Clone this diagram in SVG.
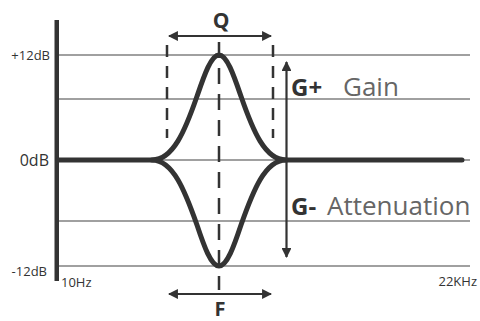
<svg xmlns="http://www.w3.org/2000/svg" width="480" height="321" viewBox="0 0 480 321">
<defs>
<style>
.grid{stroke:#a0a0a0;stroke-width:2.2;fill:none}
.curve{stroke:#333;stroke-width:5;fill:none;stroke-linecap:round;stroke-linejoin:round}
.dash{stroke:#333;stroke-width:2.5;fill:none}
.arr{stroke:#333;stroke-width:2.2;fill:none}
.lbl{font-family:"Open Sans","DejaVu Sans",sans-serif;fill:#333}
</style>
<marker id="ah" viewBox="0 0 10 10" refX="9" refY="5" markerWidth="5" markerHeight="4.5" markerUnits="strokeWidth" orient="auto-start-reverse">
<path d="M0,0 L10,5 L0,10 Z" fill="#333"/>
</marker>
</defs>
<rect width="480" height="321" fill="#fff"/>
<g id="grid">
<line class="grid" x1="58" y1="55" x2="470" y2="55"/>
<line class="grid" x1="58" y1="99" x2="470" y2="99"/>
<line class="grid" x1="58" y1="160" x2="470" y2="160"/>
<line class="grid" x1="58" y1="221" x2="470" y2="221"/>
<line class="grid" x1="58" y1="266" x2="470" y2="266"/>
</g>
<g id="axis">
<rect x="54.5" y="20" width="4.5" height="261" fill="#333"/>
<text class="lbl" x="50" y="60" font-size="13" text-anchor="end">+12dB</text>
<text class="lbl" x="49" y="166" font-size="16" text-anchor="end">0dB</text>
<text class="lbl" x="47" y="276" font-size="13" text-anchor="end">-12dB</text>
<text class="lbl" x="61" y="287" font-size="13">10Hz</text>
<text class="lbl" x="477" y="286" font-size="13" text-anchor="end">22KHz</text>
</g>
<g id="curves">
<path class="curve" d="M58,160 H152 C173,160 185,131 197,96.3 C204,76 211,55 219,55 C227,55 234,76 241,96.3 C253,131 265,160 286,160 H462"/>
<path class="curve" d="M152,160 C173,160 185,191 197,225 C204,246 211,266 219,266 C227,266 234,246 241,225 C253,191 265,160 286,160"/>
</g>
<g id="dashes">
<line class="dash" x1="167" y1="45" x2="167" y2="138" stroke-dasharray="12 9"/>
<line class="dash" x1="273" y1="45" x2="273" y2="138" stroke-dasharray="12 9"/>
<line class="dash" x1="219" y1="42" x2="219" y2="290" stroke-dasharray="16 10"/>
</g>
<g id="Q">
<line class="arr" x1="169" y1="36" x2="271" y2="36" marker-start="url(#ah)" marker-end="url(#ah)"/>
<text class="lbl" x="221" y="28" font-size="21" font-weight="bold" text-anchor="middle">Q</text>
</g>
<g id="F">
<line class="arr" x1="169" y1="294" x2="271" y2="294" marker-start="url(#ah)" marker-end="url(#ah)"/>
<text class="lbl" x="220" y="316" font-size="20" font-weight="bold" text-anchor="middle">F</text>
</g>
<g id="G">
<line class="arr" x1="286.5" y1="62" x2="286.5" y2="257" marker-start="url(#ah)" marker-end="url(#ah)"/>
<text class="lbl" x="291" y="96" font-size="24" font-weight="bold">G+</text>
<text class="lbl" x="343" y="96" font-size="26" style="fill:#666">Gain</text>
<text class="lbl" x="291" y="215" font-size="24" font-weight="bold">G-</text>
<text class="lbl" x="327" y="215" font-size="26" style="fill:#666">Attenuation</text>
</g>
</svg>
